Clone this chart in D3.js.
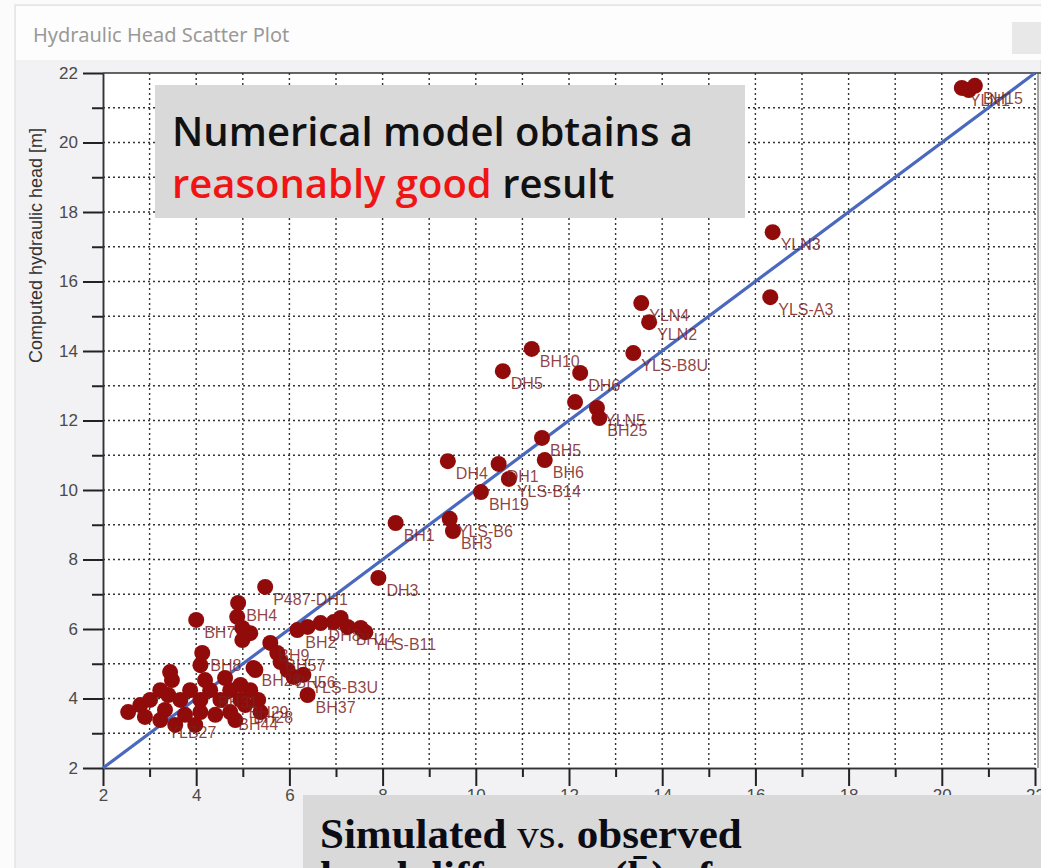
<!DOCTYPE html>
<html>
<head>
<meta charset="utf-8">
<script src="https://cdn.jsdelivr.net/npm/d3@7"></script>
<style>
  html, body { margin: 0; padding: 0; background: #fff; overflow: hidden; }
  svg { display: block; }
</style>
</head>
<body>
<div id="chart"></div>
<script>
// well labels, observed head (x) and computed head (y)
const wellNames = [
  "YLN1", "", "BH15", "YLN3", "YLS-A3", "YLN4", "YLN2", "YLS-B8U", "BH10", "DH5",
  "DH6", "", "YLN5", "BH25", "BH5", "BH6", "DH4", "DH1", "YLS-B14", "BH19",
  "YLS-B6", "BH3", "BH1", "DH3", "P487-DH1",
  "BH4", "", "BH7", "", "", "", "BH8", "", "", "BH26",
  "BH2", "", "DH8", "", "", "BH14", "", "YLS-B11",
  "BH9", "BH57", "", "BH56", "", "YLS-B3U", "", "BH37",
  "", "", "", "", "", "", "", "BH31", "", "",
  "BH29", "", "", "", "", "BH44", "BH28", "", "", "YLB27",
  "", "", "", "", "", "", "", "", "", ""
];
const observedHead = [
  20.43, 20.58, 20.71, 16.37, 16.32, 13.55, 13.72, 13.38, 11.20, 10.58,
  12.24, 12.13, 12.60, 12.65, 11.42, 11.48, 9.40, 10.49, 10.71, 10.11,
  9.44, 9.51, 8.28, 7.91, 5.48,
  4.90, 4.88, 4.00, 4.99, 5.16, 4.99, 4.13, 4.09, 3.44, 5.23,
  6.17, 6.39, 6.67, 6.95, 7.10, 7.25, 7.53, 7.63,
  5.59, 5.74, 5.81, 5.96, 6.09, 6.30, 5.27, 6.39,
  3.01, 3.23, 3.48, 3.33, 3.66, 3.87, 4.09, 4.30, 4.52, 4.73,
  4.95, 5.16, 3.76, 4.09, 4.41, 4.73, 5.05, 5.33, 3.55, 3.23,
  4.19, 4.62, 4.95, 3.98, 5.38, 4.84, 2.80, 3.40, 2.54, 2.90
];
const computedHead = [
  21.57, 21.51, 21.63, 17.42, 15.55, 15.38, 14.83, 13.94, 14.06, 13.42,
  13.37, 12.53, 12.36, 12.07, 11.50, 10.86, 10.83, 10.75, 10.32, 9.94,
  9.17, 8.82, 9.05, 7.47, 7.21,
  6.75, 6.35, 6.26, 6.03, 5.88, 5.68, 5.31, 4.96, 4.76, 4.88,
  5.97, 6.06, 6.17, 6.20, 6.32, 6.06, 6.03, 5.91,
  5.60, 5.31, 5.05, 4.82, 4.62, 4.68, 4.82, 4.10,
  3.96, 4.24, 4.53, 3.67, 3.96, 4.24, 3.96, 4.24, 3.96, 4.24,
  3.96, 4.24, 3.53, 3.61, 3.53, 3.61, 3.81, 3.96, 3.24, 3.38,
  4.53, 4.59, 4.39, 3.24, 3.61, 3.38, 3.81, 4.10, 3.61, 3.47
];
const majorTicks = [2, 4, 6, 8, 10, 12, 14, 16, 18, 20, 22];
const minorTicks = [3, 5, 7, 9, 11, 13, 15, 17, 19, 21];
const gridValues = [3, 4, 5, 6, 7, 8, 9, 10, 11, 12, 13, 14, 15, 16, 17, 18, 19, 20, 21, 22];
const identityLine = [2, 22];

const width = 1041;
const height = 868;

const svg = d3.select("#chart").append("svg")
  .attr("width", width)
  .attr("height", height);

// window chrome
svg.append("rect").attr("x", 0).attr("y", 0).attr("width", width).attr("height", height).attr("fill", "#fbfbfb");
svg.append("rect").attr("x", 15).attr("y", 5).attr("width", width - 15).attr("height", height)
  .attr("fill", "#f2f2f4").attr("stroke", "#dcdcdc");
svg.append("rect").attr("x", 16).attr("y", 6).attr("width", width - 16).attr("height", 54).attr("fill", "#fdfdfd");
svg.append("rect").attr("x", 1012).attr("y", 22).attr("width", 29).attr("height", 32).attr("fill", "#e8e8e8");
svg.append("text")
  .attr("x", 33).attr("y", 42)
  .attr("font-family", "Noto Sans, sans-serif")
  .attr("font-size", 20)
  .attr("fill", "#999")
  .text("Hydraulic Head Scatter Plot");

const x = d3.scaleLinear().domain([2, 22]).range([103, 1035]);
const y = d3.scaleLinear().domain([2, 22]).range([768, 73]);

svg.append("rect")
  .attr("x", x(2)).attr("y", y(22))
  .attr("width", x(22) - x(2) + 3).attr("height", y(2) - y(22))
  .attr("fill", "#fff");

// dotted grid
const grid = svg.append("g").attr("stroke", "#111").attr("stroke-width", 1.4)
  .attr("stroke-dasharray", "2,3").attr("opacity", 0.85);
grid.selectAll(".gx").data(gridValues).enter().append("line")
  .attr("x1", (d) => x(d)).attr("x2", (d) => x(d))
  .attr("y1", y(22)).attr("y2", y(2));
grid.selectAll(".gy").data(gridValues.filter((d) => d < 22)).enter().append("line")
  .attr("x1", x(2)).attr("x2", x(22) + 3)
  .attr("y1", (d) => y(d)).attr("y2", (d) => y(d));

// frame
svg.append("line").attr("x1", x(2)).attr("x2", width).attr("y1", y(22)).attr("y2", y(22))
  .attr("stroke", "#333").attr("stroke-width", 1.5);
svg.append("line").attr("x1", x(22) + 3).attr("x2", x(22) + 3).attr("y1", y(22)).attr("y2", y(2))
  .attr("stroke", "#555").attr("stroke-width", 1);

// axes
const styleAxis = (g) => {
  g.selectAll("path").attr("stroke", "#333").attr("stroke-width", 1.5);
  g.selectAll("line").attr("stroke", "#222").attr("stroke-width", 2);
  g.selectAll("text")
    .attr("font-family", "Liberation Sans, Arial, sans-serif")
    .attr("font-size", 17)
    .attr("fill", "#4a4a4a");
};

svg.append("g")
  .attr("transform", `translate(${x(2)},0)`)
  .call(d3.axisLeft(y).tickValues(minorTicks).tickSize(11).tickSizeOuter(0).tickFormat(""))
  .call(styleAxis);
svg.append("g")
  .attr("transform", `translate(${x(2)},0)`)
  .call(d3.axisLeft(y).tickValues(majorTicks).tickSize(20).tickSizeOuter(0).tickPadding(5))
  .call(styleAxis);

svg.append("g")
  .attr("transform", `translate(0,${y(2)})`)
  .call(d3.axisBottom(x).tickValues(minorTicks).tickSize(9).tickSizeOuter(0).tickFormat(""))
  .call(styleAxis);
svg.append("g")
  .attr("transform", `translate(0,${y(2)})`)
  .call(d3.axisBottom(x).tickValues(majorTicks).tickSize(18).tickSizeOuter(0).tickPadding(3))
  .call(styleAxis);

svg.append("text")
  .attr("transform", `translate(42,${(y(22) + y(2)) / 2 - 175}) rotate(-90)`)
  .attr("text-anchor", "middle")
  .attr("font-family", "Liberation Sans, Arial, sans-serif")
  .attr("font-size", 18)
  .attr("fill", "#333")
  .text("Computed hydraulic head [m]");

// 1:1 line
svg.append("line")
  .attr("x1", x(identityLine[0])).attr("y1", y(identityLine[0]))
  .attr("x2", x(identityLine[1])).attr("y2", y(identityLine[1]))
  .attr("stroke", "#4a68bd").attr("stroke-width", 3.2);

const wells = wellNames.map((name, i) => ({ name, obs: observedHead[i], comp: computedHead[i] }));

svg.append("g").selectAll("circle").data(wells).enter().append("circle")
  .attr("cx", (d) => x(d.obs))
  .attr("cy", (d) => y(d.comp))
  .attr("r", 8)
  .attr("fill", "#920b0b");

svg.append("g").selectAll("text").data(wells.filter((d) => d.name !== "")).enter().append("text")
  .attr("x", (d) => x(d.obs) + 8)
  .attr("y", (d) => y(d.comp) + 18)
  .attr("font-family", "Liberation Sans, Arial, sans-serif")
  .attr("font-size", 16)
  .attr("fill", "#7d1f1f")
  .attr("fill-opacity", 0.85)
  .text((d) => d.name);

// annotation boxes
svg.append("rect").attr("x", 155).attr("y", 85).attr("width", 590).attr("height", 133).attr("fill", "#d9d9d9");
const note = svg.append("text")
  .attr("font-family", "Open Sans, sans-serif")
  .attr("font-weight", 600)
  .attr("font-size", 40)
  .attr("fill", "#111");
note.append("tspan").attr("x", 172).attr("y", 146).text("Numerical model obtains a");
note.append("tspan").attr("x", 172).attr("y", 198).attr("fill", "#f01414").text("reasonably good");
note.append("tspan").text(" result");

svg.append("rect").attr("x", 303).attr("y", 795).attr("width", 745).attr("height", 80).attr("fill", "#d9d9d9");
const note2 = svg.append("text")
  .attr("font-family", "Liberation Serif, Times New Roman, serif")
  .attr("font-size", 43)
  .attr("fill", "#0c0c14")
  .attr("x", 320).attr("y", 848);
note2.append("tspan").attr("font-weight", "bold").text("Simulated");
note2.append("tspan").text(" vs. ");
note2.append("tspan").attr("font-weight", "bold").text("observed");
svg.append("text")
  .attr("font-family", "Liberation Serif, Times New Roman, serif")
  .attr("font-size", 43)
  .attr("font-weight", "bold")
  .attr("fill", "#0c0c14")
  .attr("x", 320).attr("y", 890)
  .text("head difference (h\u0304) of");
</script>
</body>
</html>
